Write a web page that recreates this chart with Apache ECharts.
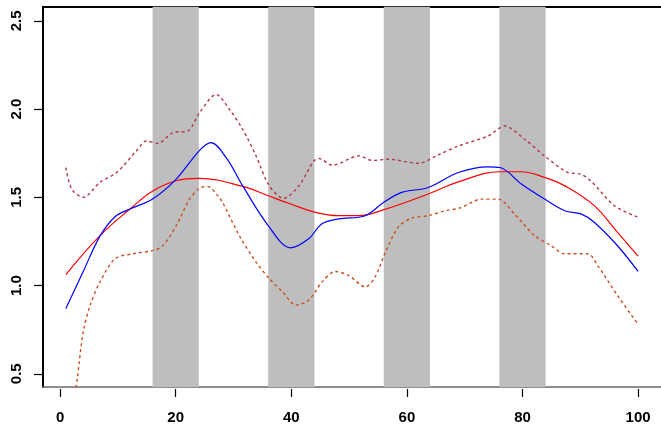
<!DOCTYPE html>
<html><head><meta charset="utf-8">
<script src="https://cdn.jsdelivr.net/npm/echarts@6/dist/echarts.min.js"></script>
<style>html,body{margin:0;padding:0;background:#fff}#c{width:661px;height:425px}</style>
</head><body><div id="c"></div>
<script>
var xTicks = [0, 20, 40, 60, 80, 100];
var yTicks = [0.5, 1.0, 1.5, 2.0, 2.5];
var bandStart = [16, 36, 56, 76];
var bandEnd = [24, 44, 64, 84];

var blueX = [1, 4, 6.9, 9.5, 12.1, 16, 20, 24.1, 26.1, 28.7, 31.6, 36, 39.9, 43, 45.3, 48.2, 52.8, 56, 59.1, 63.7, 68.9, 74, 76.1, 79.8, 83.8, 87.3, 90.1, 92.4, 96.4, 100];
var blueY = [0.87, 1.08, 1.28, 1.39, 1.434, 1.49, 1.60, 1.765, 1.81, 1.726, 1.565, 1.34, 1.214, 1.265, 1.35, 1.378, 1.396, 1.472, 1.528, 1.556, 1.641, 1.673, 1.669, 1.575, 1.49, 1.424, 1.406, 1.359, 1.227, 1.08];

var redX = [1, 6.9, 12.1, 16.1, 20.1, 24.1, 31.6, 36, 39.9, 44.2, 48.2, 51.7, 56, 63.7, 68.9, 76.1, 79.8, 83.8, 87.3, 92.4, 96.4, 100];
var redY = [1.062, 1.283, 1.434, 1.537, 1.594, 1.607, 1.562, 1.509, 1.462, 1.415, 1.396, 1.396, 1.43, 1.519, 1.588, 1.645, 1.645, 1.613, 1.565, 1.453, 1.303, 1.167];

var upX = [1, 2, 4, 6.9, 9.8, 13.2, 14.9, 16.9, 19.5, 22.1, 24.1, 27, 29.3, 31.6, 33.9, 36.2, 38.7, 41.3, 43.9, 44.8, 47.1, 51.7, 54, 56.8, 62, 65.4, 68.9, 74, 76.9, 80.4, 83.8, 87.8, 90.1, 91.8, 95.9, 100];
var upY = [1.669, 1.547, 1.5, 1.585, 1.641, 1.763, 1.819, 1.806, 1.867, 1.876, 1.979, 2.083, 1.998, 1.885, 1.735, 1.565, 1.494, 1.565, 1.706, 1.72, 1.682, 1.735, 1.709, 1.716, 1.693, 1.74, 1.791, 1.847, 1.904, 1.829, 1.735, 1.641, 1.631, 1.594, 1.453, 1.387];

var loX = [1, 2, 3, 4, 5.2, 6.9, 9.5, 12.6, 16.1, 17.8, 20.1, 22.4, 24.1, 25.5, 27.3, 28.1, 31, 33.9, 36.2, 38.5, 40.8, 43, 45.3, 47.6, 49.9, 52.8, 54.5, 56.3, 58.5, 60.8, 63.7, 66.6, 69.2, 72.9, 75.8, 78.6, 82.1, 84.9, 87.3, 91.3, 93, 96.4, 100];
var loY = [0.05, 0.25, 0.48, 0.739, 0.889, 1.02, 1.152, 1.18, 1.199, 1.227, 1.34, 1.49, 1.551, 1.562, 1.509, 1.472, 1.283, 1.133, 1.039, 0.964, 0.889, 0.917, 1.02, 1.08, 1.058, 0.992, 1.049, 1.19, 1.331, 1.382, 1.396, 1.424, 1.44, 1.49, 1.49, 1.406, 1.283, 1.227, 1.18, 1.18, 1.114, 0.945, 0.78];

function pairs(xs, ys) { return xs.map(function (x, i) { return [x, ys[i]]; }); }

var FONT = 'Liberation Sans';
var XMIN = -2.96, XMAX = 103.96, YMIN = 0.425, YMAX = 2.58;

var chart = echarts.init(document.getElementById('c'), null, { renderer: 'canvas' });
chart.setOption({
  animation: false,
  backgroundColor: '#ffffff',
  grid: { left: 43, top: 6.8, width: 620.9, height: 382.1, containLabel: false },
  xAxis: [
    { type: 'value', min: XMIN, max: XMAX, position: 'bottom', offset: 2,
      splitLine: { show: false }, axisLine: { show: false },
      axisTick: { show: true, length: 8, customValues: xTicks, lineStyle: { color: '#000', width: 1.2 } },
      axisLabel: { customValues: xTicks, margin: 21, color: '#000', fontFamily: FONT, fontWeight: 'bold', fontSize: 15 } },
    { type: 'value', min: XMIN, max: XMAX, position: 'bottom',
      splitLine: { show: false }, axisTick: { show: false }, axisLabel: { show: false },
      axisLine: { show: true, onZero: false, lineStyle: { color: '#6a6a6a', width: 1.5 } } },
    { type: 'value', min: XMIN, max: XMAX, position: 'top',
      splitLine: { show: false }, axisTick: { show: false }, axisLabel: { show: false },
      axisLine: { show: true, onZero: false, lineStyle: { color: '#000', width: 2 } } }
  ],
  yAxis: [
    { type: 'value', min: YMIN, max: YMAX, position: 'left',
      splitLine: { show: false },
      axisLine: { show: true, onZero: false, lineStyle: { color: '#000', width: 2 } },
      axisTick: { show: true, length: 9, customValues: yTicks, lineStyle: { color: '#000', width: 1.2 } },
      axisLabel: { customValues: yTicks, rotate: 90, margin: 19, color: '#000', fontFamily: FONT, fontWeight: 'bold', fontSize: 15,
        formatter: function (v) { return v.toFixed(1); } } }
  ],
  series: [
    { type: 'line', name: 'bands', data: [], silent: true, z: 1,
      markArea: { silent: true, itemStyle: { color: '#BEBEBE' },
        data: bandStart.map(function (s, i) { return [{ xAxis: s }, { xAxis: bandEnd[i] }]; }) } },
    { type: 'line', name: 'upper', data: pairs(upX, upY), showSymbol: false, smooth: 0.3, z: 3,
      lineStyle: { color: '#B23A48', width: 1.4, type: [3, 3] } },
    { type: 'line', name: 'lower', data: pairs(loX, loY), showSymbol: false, smooth: 0.3, z: 3,
      lineStyle: { color: '#C8501E', width: 1.4, type: [3, 3] } },
    { type: 'line', name: 'fit', data: pairs(redX, redY), showSymbol: false, smooth: 0.4, z: 4,
      lineStyle: { color: '#FF0000', width: 1.2 } },
    { type: 'line', name: 'obs', data: pairs(blueX, blueY), showSymbol: false, smooth: 0.35, z: 5,
      lineStyle: { color: '#0000FF', width: 1.2 } }
  ]
});
</script></body></html>
